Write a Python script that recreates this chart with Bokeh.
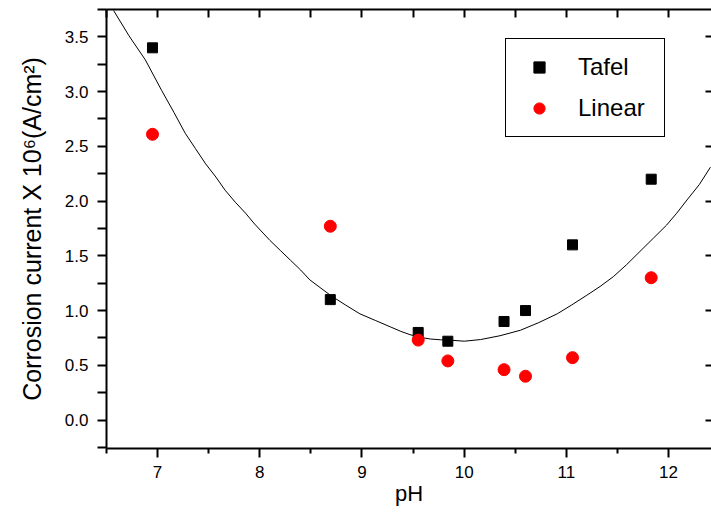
from bokeh.plotting import figure
from bokeh.models import Range1d, LinearAxis, FixedTicker, Legend, LegendItem, PrintfTickFormatter
from bokeh.embed import file_html
from bokeh.resources import INLINE

# ---- data ----
ph = [6.95, 8.69, 9.55, 9.84, 10.39, 10.60, 11.06, 11.83]
tafel = [3.40, 1.10, 0.80, 0.72, 0.90, 1.00, 1.60, 2.20]
linear = [2.61, 1.77, 0.73, 0.54, 0.46, 0.40, 0.57, 1.30]

fit_ph = [6.57, 6.72, 6.88, 7.04, 7.16, 7.27, 7.37, 7.47, 7.57, 7.66, 7.76, 7.86,
          7.95, 8.04, 8.10, 8.20, 8.30, 8.40, 8.49, 8.59, 8.69, 8.84, 8.98, 9.13,
          9.28, 9.38, 9.47, 9.57, 9.67, 9.77, 9.86, 10.00, 10.16, 10.35, 10.55,
          10.73, 10.91, 11.05, 11.20, 11.33, 11.46, 11.59, 11.72, 11.85, 11.98,
          12.08, 12.18, 12.30, 12.41]
fit_val = [3.74, 3.51, 3.29, 3.01, 2.81, 2.62, 2.48, 2.34, 2.22, 2.10, 1.99, 1.89,
           1.79, 1.70, 1.64, 1.55, 1.46, 1.37, 1.28, 1.21, 1.14, 1.05, 0.97, 0.91,
           0.85, 0.81, 0.78, 0.755, 0.74, 0.733, 0.73, 0.72, 0.735, 0.77, 0.82,
           0.89, 0.97, 1.05, 1.14, 1.22, 1.31, 1.42, 1.54, 1.66, 1.78, 1.89, 2.01,
           2.15, 2.31]

x_major = [7, 8, 9, 10, 11, 12]
x_minor = [6.5, 7.5, 8.5, 9.5, 10.5, 11.5, 12.5]
x_all = [6.5, 7, 7.5, 8, 8.5, 9, 9.5, 10, 10.5, 11, 11.5, 12, 12.5]
y_major = [0.0, 0.5, 1.0, 1.5, 2.0, 2.5, 3.0, 3.5]
y_minor = [-0.25, 0.25, 0.75, 1.25, 1.75, 2.25, 2.75, 3.25, 3.75]

FONT = "Liberation Sans"

p = figure(width=711, height=514, output_backend="svg", toolbar_location=None,
           x_range=Range1d(6.5, 12.42), y_range=Range1d(-0.26, 3.75),
           x_axis_location=None, y_axis_location=None,
           min_border_left=106, min_border_right=0, min_border_top=9,
           min_border_bottom=66)
p.grid.visible = False
p.outline_line_color = None
p.background_fill_color = "white"
p.border_fill_color = "white"

# bottom axis
xb = LinearAxis(ticker=FixedTicker(ticks=x_major, minor_ticks=x_minor), axis_label="pH")
xb.axis_line_width = 2
xb.major_tick_line_width = 2
xb.minor_tick_line_width = 2
xb.major_tick_out = 9
xb.major_tick_in = 0
xb.minor_tick_out = 5
xb.minor_tick_in = 0
xb.major_label_standoff = 8
xb.major_label_text_font = FONT
xb.major_label_text_font_size = "17px"
xb.major_label_text_color = "black"
xb.axis_label_text_font = FONT
xb.axis_label_text_font_size = "22px"
xb.axis_label_text_font_style = "normal"
xb.axis_label_text_color = "black"
xb.axis_label_standoff = 0
p.add_layout(xb, "below")

# left axis
yl = LinearAxis(ticker=FixedTicker(ticks=y_major, minor_ticks=y_minor),
                axis_label="Corrosion current X 10\u2076(A/cm\u00b2)",
                formatter=PrintfTickFormatter(format="%.1f"))
yl.axis_line_width = 2
yl.major_tick_line_width = 2
yl.minor_tick_line_width = 2
yl.major_tick_out = 9
yl.major_tick_in = 0
yl.minor_tick_out = 9
yl.minor_tick_in = 0
yl.major_label_standoff = 9
yl.major_label_text_font = FONT
yl.major_label_text_font_size = "17px"
yl.major_label_text_color = "black"
yl.axis_label_text_font = FONT
yl.axis_label_text_font_size = "25px"
yl.axis_label_text_font_style = "normal"
yl.axis_label_text_color = "black"
yl.axis_label_standoff = 16
p.add_layout(yl, "left")

# top axis: inward ticks only (drawn as minor ticks, so no labels)
xt = LinearAxis(ticker=FixedTicker(ticks=[], minor_ticks=x_all))
xt.axis_line_width = 2
xt.minor_tick_line_width = 2
xt.minor_tick_in = 8
xt.minor_tick_out = 0
xt.major_tick_in = 0
xt.major_tick_out = 0
xt.major_label_standoff = 0
p.add_layout(xt, "above")

# right axis: inward ticks only
yr = LinearAxis(ticker=FixedTicker(ticks=[], minor_ticks=y_major))
yr.axis_line_color = None
yr.minor_tick_line_width = 2
yr.minor_tick_in = 6
yr.minor_tick_out = 0
yr.major_tick_in = 0
yr.major_tick_out = 0
yr.major_label_standoff = 0
p.add_layout(yr, "right")

# fitted curve
p.line(fit_ph, fit_val, line_color="black", line_width=1)

r_t = p.scatter(ph, tafel, marker="square", size=10, fill_color="black", line_color="black")
r_l = p.scatter(ph, linear, marker="circle", size=12, fill_color="red", line_color="red")

legend = Legend(items=[LegendItem(label="Tafel", renderers=[r_t]),
                       LegendItem(label="Linear", renderers=[r_l])],
                location=(399, 311))
legend.label_text_font = FONT
legend.label_text_font_size = "24px"
legend.label_text_color = "black"
legend.border_line_color = "black"
legend.border_line_width = 1
legend.border_line_alpha = 1
legend.background_fill_color = "white"
legend.background_fill_alpha = 1
legend.padding = 14
legend.spacing = 13
legend.margin = 0
legend.glyph_width = 38
legend.glyph_height = 28
legend.label_standoff = 20
legend.label_width = 72
legend.label_height = 28
p.add_layout(legend)

open("out.html", "w").write(file_html(p, INLINE))
